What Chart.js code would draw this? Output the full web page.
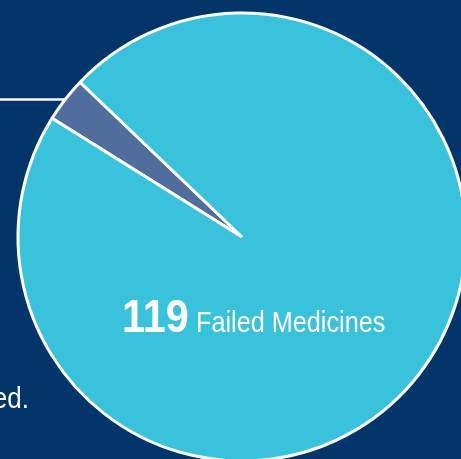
<!DOCTYPE html>
<html>
<head>
<meta charset="utf-8">
<script src="https://cdn.jsdelivr.net/npm/chart.js@4"></script>
<style>
  html, body { margin: 0; padding: 0; background: #02366a; overflow: hidden; width: 461px; height: 459px; }
  #wrap { position: absolute; left: 0; top: 0; width: 484px; height: 474px; }
</style>
</head>
<body>
<div id="wrap"><canvas id="pieChart" width="484" height="474"></canvas></div>
<script>
const categories = ['Other Medicines', 'Failed Medicines'];
const counts = [4, 119];
const sliceColors = ['#516d9e', '#38c2dc'];

const fontFamily = "'Liberation Sans', Arial, sans-serif";

// the original uses a condensed face, so squeeze a regular one
function narrowText(ctx, text, x, y, squeeze, align) {
    ctx.save();
    ctx.translate(x, y);
    ctx.scale(squeeze, 1);
    ctx.textAlign = align || 'left';
    ctx.fillText(text, 0, 0);
    ctx.restore();
}

// leader line from the small slice, plus the text labels
const labelPlugin = {
    id: 'labels',
    beforeDatasetsDraw(chart) {
        const arc = chart.getDatasetMeta(0).data[0];
        const mid = (arc.startAngle + arc.endAngle) / 2;
        const y = arc.y + arc.outerRadius * Math.sin(mid);
        const x = arc.x + arc.outerRadius * Math.cos(mid);
        const ctx = chart.ctx;
        ctx.save();
        ctx.strokeStyle = '#ffffff';
        ctx.lineWidth = 2.5;
        ctx.beginPath();
        ctx.moveTo(0, y);
        ctx.lineTo(x, y);
        ctx.stroke();
        ctx.restore();
    },
    afterDraw(chart) {
        const ctx = chart.ctx;
        const arc = chart.getDatasetMeta(0).data[1];
        ctx.save();
        ctx.fillStyle = '#ffffff';
        ctx.textBaseline = 'alphabetic';
        ctx.font = 'bold 46px ' + fontFamily;
        narrowText(ctx, String(counts[1]), arc.x - 120, arc.y + 95, 0.9);
        ctx.font = '29px ' + fontFamily;
        narrowText(ctx, categories[1], arc.x - 46, arc.y + 95, 0.87);
        ctx.font = '30px ' + fontFamily;
        narrowText(ctx, 'ed.', 29, 408, 0.87, 'right');
        ctx.restore();
    }
};

new Chart(document.getElementById('pieChart'), {
    type: 'pie',
    data: {
        labels: categories,
        datasets: [{
            data: counts,
            backgroundColor: sliceColors,
            borderColor: '#ffffff',
            borderWidth: 3
        }]
    },
    options: {
        responsive: false,
        animation: false,
        rotation: 302,
        radius: 224,
        layout: { padding: 0 },
        plugins: {
            legend: { display: false },
            tooltip: { enabled: false }
        }
    },
    plugins: [labelPlugin]
});
</script>
</body>
</html>
